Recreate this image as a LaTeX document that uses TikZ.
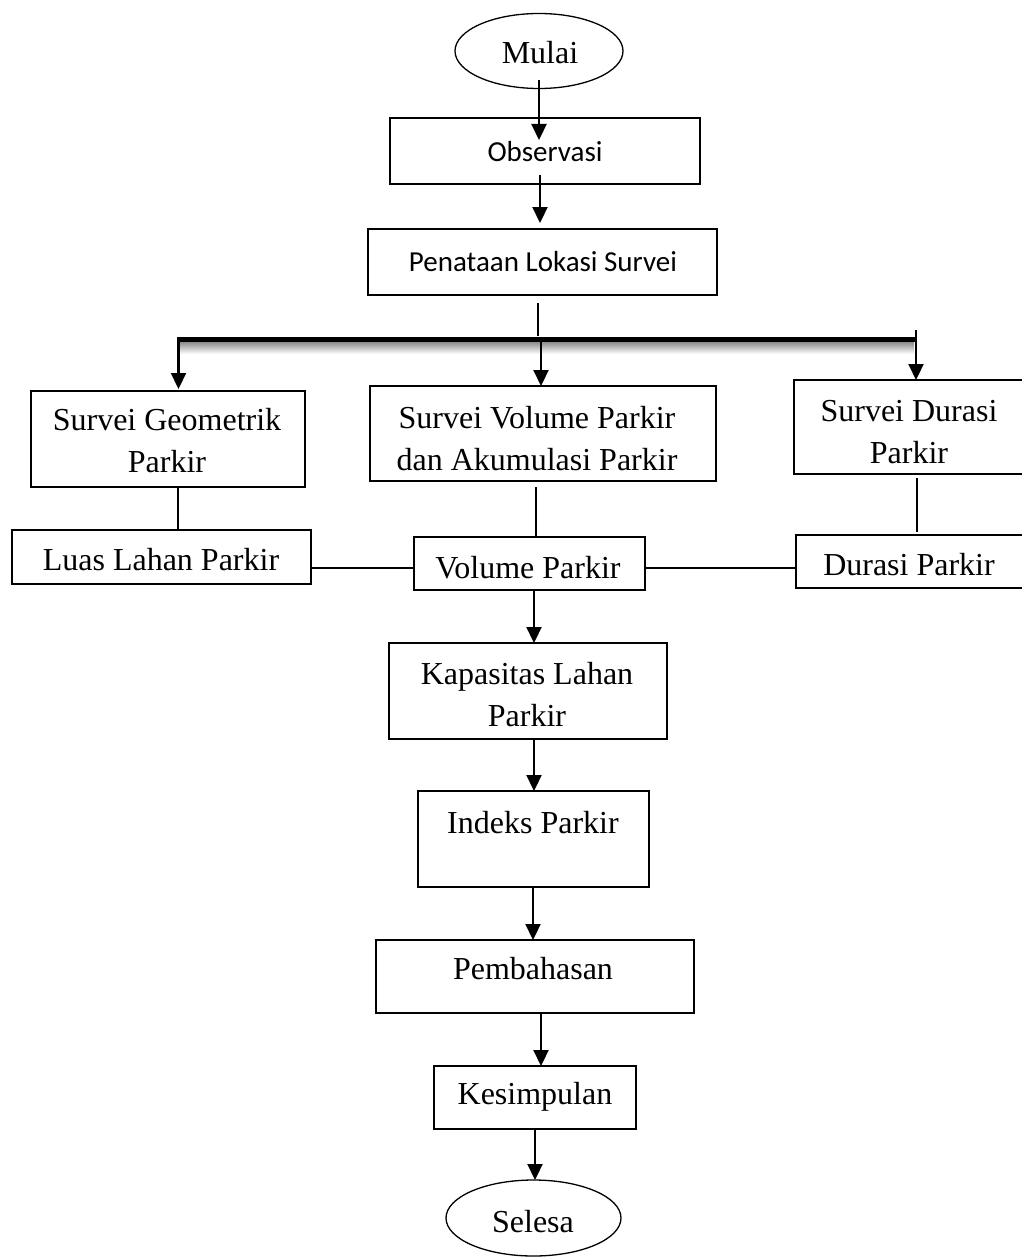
\documentclass[tikz,border=0pt]{standalone}
\usepackage{fontspec}
\setmainfont{Liberation Serif}
\newfontfamily\calib{Carlito}
\usetikzlibrary{arrows.meta,shapes.geometric}
\begin{document}
\begin{tikzpicture}[x=1pt,y=-1pt,
  box/.style={draw,line width=1.6pt,inner sep=0pt},
  oval/.style={draw,ellipse,line width=1.3pt,inner sep=0pt},
  lbl/.style={font=\fontsize{32}{42}\selectfont,align=center,inner sep=0pt},
  slbl/.style={font=\calib\fontsize{29}{36}\selectfont,inner sep=0pt},
  arr/.style={line width=2.2pt,-{Triangle[length=16pt,width=15pt]}},
  ln/.style={line width=1.3pt}]
\useasboundingbox (0,0) rectangle (1021,1260);
\fill[white] (0,0) rectangle (1021,1260);

% Nodes (shapes)
\node[oval,minimum width=168pt,minimum height=75pt] (mulai) at (539,51) {};
\node[lbl] at (540,53) {Mulai};

\node[box,minimum width=310pt,minimum height=66pt] (obs) at (545,151) {};
\node[slbl] at (545,152) {Observasi};

\node[box,minimum width=349pt,minimum height=66pt] (pen) at (542.5,262) {};
\node[slbl] at (543,262) {Penataan Lokasi Survei};

\node[box,minimum width=274pt,minimum height=96pt] (geo) at (168,439) {};
\node[lbl] at (167,441) {Survei Geometrik\\Parkir};

\node[box,minimum width=346pt,minimum height=95pt] (vol) at (543,433.5) {};
\node[lbl] at (537,439) {Survei Volume Parkir\\dan Akumulasi Parkir};

\node[box,minimum width=234pt,minimum height=94pt] (dur) at (911,427) {};
\node[lbl] at (909,432) {Survei Durasi\\Parkir};

\node[box,minimum width=299pt,minimum height=54pt] (luas) at (161.5,557) {};
\node[lbl] at (161,560) {Luas Lahan Parkir};

\node[box,minimum width=231pt,minimum height=53pt] (vp) at (529.5,563.5) {};
\node[lbl] at (528,568) {Volume Parkir};

\node[box,minimum width=232pt,minimum height=53pt] (dp) at (912,561.5) {};
\node[lbl] at (909,565) {Durasi Parkir};

\node[box,minimum width=278pt,minimum height=96pt] (kap) at (528,691) {};
\node[lbl] at (527,695) {Kapasitas Lahan\\Parkir};

\node[box,minimum width=231pt,minimum height=96pt] (idx) at (533.5,839) {};
\node[lbl] at (533,823) {Indeks Parkir};

\node[box,minimum width=318pt,minimum height=73pt] (pem) at (535,976.5) {};
\node[lbl] at (533,969) {Pembahasan};

\node[box,minimum width=202pt,minimum height=63pt] (kes) at (535,1097.5) {};
\node[lbl] at (535,1097) {Kesimpulan};

\node[oval,minimum width=175pt,minimum height=76pt] (sel) at (533.5,1218) {};
\node[lbl] at (533,1222) {Selesa};

% branch coordinates
\coordinate (bL) at (178,339.5);
\coordinate (bR) at (916,339.5);
\coordinate (bTop) at (538,303);
\coordinate (bRtop) at (916,330);

% connectors
\draw[arr] (539,80) -- (539,140);
\draw[arr] (540,175) -- (540,223);
\draw[ln] (bTop) -- (538,336);
\shade[top color=black!45,bottom color=white] (180,342) rectangle (914,354);
\draw[line width=5pt] (bL) -- (bR);
\draw[arr] (178.5,337) -- (178.5,389);
\draw[arr] (541,342) -- (541,386);
\draw[arr] (bRtop) -- (916,380);

\draw[ln] (178,487) -- (178,530);
\draw[ln] (536,487) -- (536,537);
\draw[ln] (917,478) -- (917,532);
\draw[ln] (luas.east |- 0,568) -- (vp.west |- 0,568);
\draw[ln] (vp.east |- 0,568) -- (dp.west |- 0,568);

\draw[arr] (534,590) -- (534,643);
\draw[arr] (534,739) -- (534,791);
\draw[arr] (533,887) -- (533,940);
\draw[arr] (541,1013) -- (541,1066);
\draw[arr] (535,1129) -- (535,1180);
\end{tikzpicture}
\end{document}
